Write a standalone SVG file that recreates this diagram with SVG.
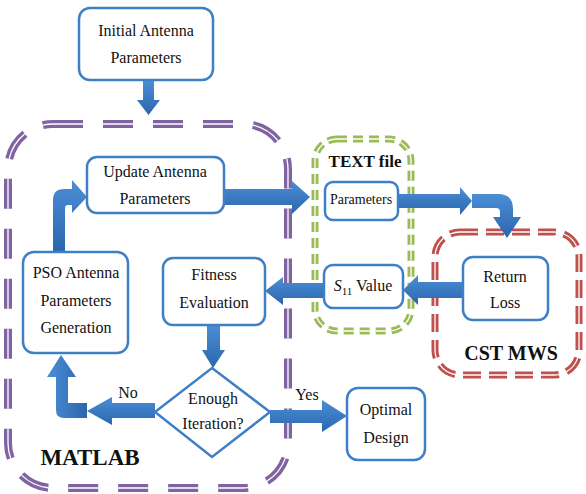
<svg xmlns="http://www.w3.org/2000/svg" width="586" height="494" viewBox="0 0 586 494">
<defs>
<linearGradient id="ag" x1="0" y1="0" x2="0" y2="1">
<stop offset="0" stop-color="#4b8ed6"/>
<stop offset="1" stop-color="#2b66ad"/>
</linearGradient>
<linearGradient id="agh" x1="0" y1="0" x2="1" y2="0">
<stop offset="0" stop-color="#4b8ed6"/>
<stop offset="1" stop-color="#2b66ad"/>
</linearGradient>
</defs>
<style>
.box{fill:#fff;stroke:#3f7fc5;stroke-width:2.5}
text{font-family:'Liberation Serif','Tinos','DejaVu Serif',serif;fill:#111;text-anchor:middle}
.t{font-size:16px}
.ts{font-size:14px}
.tb{font-weight:bold}
.arr{fill:url(#ag)}
.arrh{fill:url(#agh)}
.inner{fill:none;stroke:#fff;stroke-width:1.3}
</style>
<g id="region-matlab">
<rect x="8" y="124" width="280" height="364" rx="45" fill="none" stroke="#8064a2" stroke-width="8" stroke-dasharray="30 20"/>
<rect x="8" y="124" width="280" height="364" rx="45" class="inner" stroke-dasharray="30 20"/>
<text class="tb" x="90" y="465" font-size="23">MATLAB</text>
</g>
<g id="region-text">
<rect x="315" y="139" width="96" height="192" rx="22" fill="none" stroke="#9bbb59" stroke-width="7" stroke-dasharray="10 6"/>
<rect x="315" y="139" width="96" height="192" rx="22" class="inner" stroke-dasharray="10 6"/>
<text class="tb" x="365" y="167" font-size="17">TEXT file</text>
</g>
<g id="region-cst">
<rect x="435" y="232" width="144" height="143" rx="25" fill="none" stroke="#c0504d" stroke-width="7" stroke-dasharray="18 8"/>
<rect x="435" y="232" width="144" height="143" rx="25" class="inner" stroke-dasharray="18 8"/>
<text class="tb" x="511" y="360" font-size="20">CST MWS</text>
</g>
<g id="connectors">
<polygon class="arr" points="143,80 154,80 154,100 160,100 148.5,115 137,100 143,100"/>
<polygon class="arr" points="224,189 292,189 292,181 310,197 292,214 292,205 224,205"/>
<polygon class="arr" points="398,194 460,194 460,187 472,201 460,215 460,208 398,208"/>
<path class="arr" d="M472,194 L498,194 Q513,194 513,209 L513,217 L521,217 L507,238 L493,217 L500,217 L500,212 Q500,208 496,208 L472,208 Z"/>
<polygon class="arr" points="463,282 418,282 418,275 403,290 418,305 418,298 463,298"/>
<polygon class="arr" points="324,283 283,283 283,277 265,291 283,305 283,298 324,298"/>
<polygon class="arr" points="207,325 220,325 220,350 225,350 213,368 202,350 207,350"/>
<polygon class="arr" points="155,403 112,403 112,397 87,411 112,425 112,418 155,418"/>
<path class="arrh" d="M87,403 L68,403 L68,377 L76,377 L61,355 L47,377 L56,377 L56,410 Q56,418 64,418 L87,418 Z"/>
<path class="arr" d="M53,252 L53,200 Q53,189 64,189 L72,189 L72,180 L87,197 L72,213 L72,205 L68,205 Q65,205 65,208 L65,252 Z"/>
<polygon class="arr" points="270,410 322,410 322,400 347,416 322,432 322,423 270,423"/>
<text class="t" x="128" y="398">No</text>
<text class="t" x="307" y="400">Yes</text>
</g>
<g id="initial">
<rect class="box" x="79" y="8" width="134" height="72" rx="11"/>
<text class="t" x="146" y="36">Initial Antenna</text>
<text class="t" x="146" y="63">Parameters</text>
</g>
<g id="update">
<rect class="box" x="87" y="157" width="137" height="56" rx="10"/>
<text class="t" x="155" y="177">Update Antenna</text>
<text class="t" x="155" y="204">Parameters</text>
</g>
<g id="parameters">
<rect class="box" x="325" y="182" width="73" height="38" rx="8"/>
<text class="ts" x="361" y="204">Parameters</text>
</g>
<g id="return-loss">
<rect class="box" x="463" y="257" width="85" height="63" rx="10"/>
<text class="t" x="505" y="282">Return</text>
<text class="t" x="505" y="308">Loss</text>
</g>
<g id="s11">
<rect class="box" x="324" y="265" width="79" height="43" rx="9"/>
<text class="t" x="363" y="291"><tspan font-style="italic">S</tspan><tspan font-size="11" dy="4">11</tspan><tspan dy="-4"> Value</tspan></text>
</g>
<g id="fitness">
<rect class="box" x="163" y="258" width="102" height="67" rx="10"/>
<text class="t" x="214" y="280">Fitness</text>
<text class="t" x="214" y="308">Evaluation</text>
</g>
<g id="pso">
<rect class="box" x="23" y="252" width="105" height="101" rx="11"/>
<text class="t" x="76" y="278">PSO Antenna</text>
<text class="t" x="76" y="306">Parameters</text>
<text class="t" x="76" y="333">Generation</text>
</g>
<g id="decision">
<polygon class="box" points="212,368 270,412 212,457 155,412"/>
<text class="t" x="213" y="404">Enough</text>
<text class="t" x="213" y="429">Iteration?</text>
</g>
<g id="optimal">
<rect class="box" x="347" y="388" width="78" height="72" rx="11"/>
<text class="t" x="386" y="415">Optimal</text>
<text class="t" x="386" y="443">Design</text>
</g>
</svg>
